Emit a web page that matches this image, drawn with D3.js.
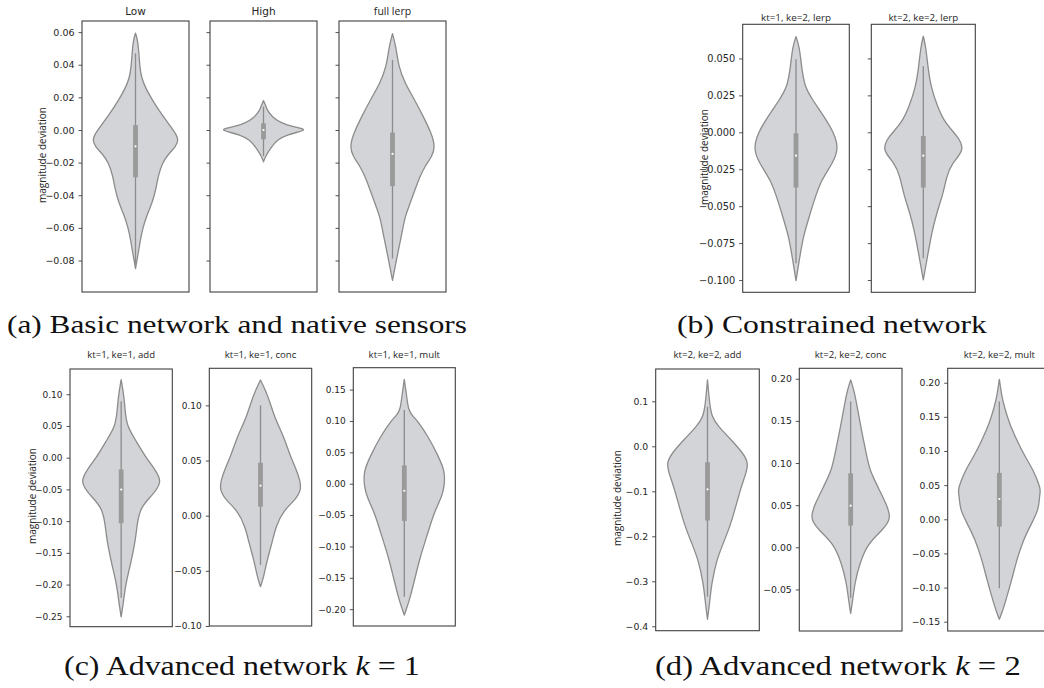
<!DOCTYPE html>
<html>
<head>
<meta charset="utf-8">
<script src="https://cdn.jsdelivr.net/npm/d3@7"></script>
<style>
  body { margin: 0; background: #fff; }
  svg { display: block; }
</style>
</head>
<body>
<svg id="fig" width="1044" height="688"></svg>
<script>
// ---- Violin profiles: sampled deviation levels and relative kernel density (0..1) ----
// Box stats are [lower whisker, q1, median, q3, upper whisker].

const lowLevels  = [0.0594, 0.055, 0.047, 0.039, 0.032, 0.026, 0.018, 0.010, 0.003, -0.003, -0.006, -0.010, -0.015, -0.020, -0.028, -0.036, -0.044, -0.052, -0.060, -0.068, -0.076, -0.085];
const lowDensity = [0, 0.05, 0.08, 0.10, 0.14, 0.23, 0.40, 0.60, 0.80, 0.96, 1, 0.95, 0.76, 0.63, 0.53, 0.48, 0.40, 0.27, 0.17, 0.11, 0.06, 0];
const lowBox     = [-0.082, -0.029, -0.010, 0.003, 0.047];

const highLevels  = [0.018, 0.015, 0.012, 0.008, 0.004, 0.002, 0.0004, -0.001, -0.003, -0.006, -0.011, -0.016, -0.0195];
const highDensity = [0, 0.05, 0.09, 0.20, 0.43, 0.70, 1, 0.85, 0.55, 0.32, 0.17, 0.05, 0];
const highBox     = [-0.016, -0.0057, 0.0, 0.0041, 0.0143];

const fullLerpLevels  = [0.059, 0.0512, 0.0389, 0.0287, 0.0184, 0.0082, -0.002, -0.0102, -0.0164, -0.0225, -0.0287, -0.0369, -0.0451, -0.0532, -0.0635, -0.0758, -0.084, -0.0922];
const fullLerpDensity = [0, 0.08, 0.14, 0.29, 0.52, 0.72, 0.91, 1, 0.92, 0.75, 0.64, 0.52, 0.41, 0.29, 0.22, 0.12, 0.06, 0];
const fullLerpBox     = [-0.0788, -0.0344, -0.0147, -0.0016, 0.043];

const k1e2LerpLevels  = [0.0647, 0.058, 0.0444, 0.0309, 0.0219, 0.0106, -0.0007, -0.0113, -0.021, -0.0323, -0.0458, -0.0571, -0.0706, -0.0841, -0.1004];
const k1e2LerpDensity = [0, 0.08, 0.13, 0.20, 0.39, 0.66, 0.90, 1, 0.86, 0.59, 0.43, 0.31, 0.17, 0.09, 0];
const k1e2LerpBox     = [-0.0886, -0.0374, -0.0158, -0.0007, 0.0494];

const k2e2LerpLevels  = [0.065, 0.058, 0.0444, 0.0309, 0.0174, 0.0061, -0.0029, -0.012, -0.021, -0.030, -0.0413, -0.0548, -0.0683, -0.0841, -0.0999];
const k2e2LerpDensity = [0, 0.06, 0.11, 0.18, 0.34, 0.52, 0.84, 1, 0.68, 0.56, 0.48, 0.32, 0.20, 0.10, 0];
const k2e2LerpBox     = [-0.0852, -0.0374, -0.0158, -0.0025, 0.0449];

const k1AddLevels  = [0.123, 0.0968, 0.0704, 0.0492, 0.028, 0.0016, -0.0196, -0.038, -0.0566, -0.0778, -0.1042, -0.1307, -0.1677, -0.1995, -0.226, -0.251];
const k1AddDensity = [0, 0.07, 0.10, 0.15, 0.35, 0.59, 0.84, 1, 0.80, 0.47, 0.39, 0.35, 0.23, 0.11, 0.06, 0];
const k1AddBox     = [-0.2206, -0.1032, -0.0503, -0.0185, 0.0889];

const k1ConcLevels  = [0.123, 0.1139, 0.1018, 0.0867, 0.0716, 0.0535, 0.0414, 0.0323, 0.0239, 0.0142, 0.0051, -0.010, -0.0251, -0.0402, -0.0553, -0.0643];
const k1ConcDensity = [0, 0.12, 0.24, 0.37, 0.57, 0.73, 0.88, 0.96, 1, 0.85, 0.57, 0.37, 0.28, 0.16, 0.08, 0];
const k1ConcBox     = [-0.0447, 0.0082, 0.0272, 0.048, 0.100];

const k1MultLevels  = [0.1663, 0.1387, 0.1174, 0.108, 0.1015, 0.0749, 0.043, 0.0191, -0.0048, -0.0207, -0.0473, -0.0845, -0.1164, -0.1483, -0.1801, -0.1961, -0.2094];
const k1MultDensity = [0, 0.06, 0.10, 0.20, 0.31, 0.59, 0.84, 1, 0.98, 0.92, 0.72, 0.55, 0.39, 0.27, 0.15, 0.07, 0];
const k1MultBox     = [-0.180, -0.0595, -0.0112, 0.0292, 0.1174];

const k2AddLevels  = [0.1474, 0.0956, 0.0659, 0.0437, 0.0141, -0.0156, -0.0378, -0.0674, -0.097, -0.1415, -0.1785, -0.2156, -0.2526, -0.3044, -0.3489, -0.3844];
const k2AddDensity = [0, 0.05, 0.10, 0.26, 0.58, 0.86, 1, 0.90, 0.79, 0.66, 0.54, 0.38, 0.22, 0.10, 0.05, 0];
const k2AddBox     = [-0.334, -0.165, -0.0957, -0.0354, 0.0881];

const k2ConcLevels  = [0.1986, 0.1867, 0.1669, 0.1392, 0.1116, 0.0918, 0.072, 0.0522, 0.0344, 0.0206, 0.0047, -0.019, -0.0427, -0.0625, -0.0783];
const k2ConcDensity = [0, 0.08, 0.16, 0.26, 0.38, 0.46, 0.66, 0.86, 1, 0.78, 0.42, 0.22, 0.10, 0.05, 0];
const k2ConcBox     = [-0.060, 0.0257, 0.0494, 0.0878, 0.1729];

const k2MultLevels  = [0.205, 0.1796, 0.165, 0.1406, 0.1162, 0.0918, 0.0722, 0.0527, 0.043, 0.0332, 0.0137, -0.0059, -0.0303, -0.0595, -0.0888, -0.1181, -0.1376, -0.1464];
const k2MultDensity = [0, 0.06, 0.12, 0.24, 0.42, 0.62, 0.82, 0.95, 1, 0.97, 0.95, 0.78, 0.58, 0.42, 0.30, 0.16, 0.06, 0];
const k2MultBox     = [-0.101, -0.0108, 0.0297, 0.068, 0.1723];

// ---- Axis limits and tick values ----
const basicLimits = [-0.0993, 0.0668];
const basicTicks  = [0.06, 0.04, 0.02, 0, -0.02, -0.04, -0.06, -0.08];
const constrLimits = [-0.1083, 0.0731];
const constrTicks  = [0.05, 0.025, 0, -0.025, -0.05, -0.075, -0.1];
const k1AddLimits  = [-0.2664, 0.1398];
const k1AddTicks   = [0.1, 0.05, 0, -0.05, -0.1, -0.15, -0.2, -0.25];
const k1ConcLimits = [-0.1, 0.1336];
const k1ConcTicks  = [0.1, 0.05, 0, -0.05, -0.1];
const k1MultLimits = [-0.2268, 0.1849];
const k1MultTicks  = [0.15, 0.1, 0.05, 0, -0.05, -0.1, -0.15, -0.2];
const k2AddLimits  = [-0.4098, 0.1718];
const k2AddTicks   = [0.1, 0, -0.1, -0.2, -0.3, -0.4];
const k2ConcLimits = [-0.0993, 0.2124];
const k2ConcTicks  = [0.2, 0.15, 0.1, 0.05, 0, -0.05];
const k2MultLimits = [-0.1636, 0.2211];
const k2MultTicks  = [0.2, 0.15, 0.1, 0.05, 0, -0.05, -0.1, -0.15];

const yLabel = "magnitude deviation";

// ---- Layout ----
const svg = d3.select("#fig");
const COL = { fill: "#d3d4d7", edge: "#8c8c8c", box: "#9a9a9a", frame: "#404040", text: "#262626" };
const TITLE_FONT = "'Open Sans', 'Noto Sans', sans-serif";
const TICK_FONT = "'DejaVu Sans', sans-serif";

const panels = [
  { title: "Low",       levels: lowLevels,      density: lowDensity,      box: lowBox,      limits: basicLimits,  ticks: basicTicks,  fmt: ".2f", labels: true,  frame: [82, 21, 189, 292],        tickSize: 9.5, titleY: 15,   titleFont: TICK_FONT, titleSize: 10.5 },
  { title: "High",      levels: highLevels,     density: highDensity,     box: highBox,     limits: basicLimits,  ticks: basicTicks,  fmt: ".2f", labels: false, frame: [210, 21, 317, 292],       tickSize: 9.5, titleY: 15,   titleFont: TICK_FONT, titleSize: 10.5 },
  { title: "full lerp", levels: fullLerpLevels, density: fullLerpDensity, box: fullLerpBox, limits: basicLimits,  ticks: basicTicks,  fmt: ".2f", labels: false, frame: [339, 21, 446, 292],       tickSize: 9.5, titleY: 15,   titleFont: TITLE_FONT, titleSize: 10.5 },
  { title: "kt=1, ke=2, lerp", levels: k1e2LerpLevels, density: k1e2LerpDensity, box: k1e2LerpBox, limits: constrLimits, ticks: constrTicks, fmt: ".3f", labels: true,  frame: [742.7, 24.3, 849.3, 292.3], tickSize: 9.8, titleY: 20.5, titleFont: TITLE_FONT, titleSize: 9.8 },
  { title: "kt=2, ke=2, lerp", levels: k2e2LerpLevels, density: k2e2LerpDensity, box: k2e2LerpBox, limits: constrLimits, ticks: constrTicks, fmt: ".3f", labels: false, frame: [871.3, 24.3, 975.3, 292.3], tickSize: 9.8, titleY: 20.5, titleFont: TITLE_FONT, titleSize: 9.8 },
  { title: "kt=1, ke=1, add",  levels: k1AddLevels,  density: k1AddDensity,  box: k1AddBox,  limits: k1AddLimits,  ticks: k1AddTicks,  fmt: ".2f", labels: true, frame: [70, 369, 172.3, 626.7],   tickSize: 9.0, titleY: 358, titleFont: TITLE_FONT, titleSize: 9.6 },
  { title: "kt=1, ke=1, conc", levels: k1ConcLevels, density: k1ConcDensity, box: k1ConcBox, limits: k1ConcLimits, ticks: k1ConcTicks, fmt: ".2f", labels: true, frame: [209.3, 368.3, 311.7, 626], tickSize: 9.0, titleY: 358, titleFont: TITLE_FONT, titleSize: 9.6 },
  { title: "kt=1, ke=1, mult", levels: k1MultLevels, density: k1MultDensity, box: k1MultBox, limits: k1MultLimits, ticks: k1MultTicks, fmt: ".2f", labels: true, frame: [353.3, 367.7, 455.3, 626], tickSize: 9.0, titleY: 358, titleFont: TITLE_FONT, titleSize: 9.6 },
  { title: "kt=2, ke=2, add",  levels: k2AddLevels,  density: k2AddDensity,  box: k2AddBox,  limits: k2AddLimits,  ticks: k2AddTicks,  fmt: ".1f", labels: true, frame: [655.7, 369, 759.3, 630.7], tickSize: 9.3, titleY: 358, titleFont: TITLE_FONT, titleSize: 9.6 },
  { title: "kt=2, ke=2, conc", levels: k2ConcLevels, density: k2ConcDensity, box: k2ConcBox, limits: k2ConcLimits, ticks: k2ConcTicks, fmt: ".2f", labels: true, frame: [799.3, 368.3, 902, 631],   tickSize: 9.3, titleY: 358, titleFont: TITLE_FONT, titleSize: 9.6 },
  { title: "kt=2, ke=2, mult", levels: k2MultLevels, density: k2MultDensity, box: k2MultBox, limits: k2MultLimits, ticks: k2MultTicks, fmt: ".2f", labels: true, frame: [947.7, 368.3, 1051, 631],  tickSize: 9.3, titleY: 358, titleFont: TITLE_FONT, titleSize: 9.6 }
];

function drawPanel(p) {
  const [x0, y0, x1, y1] = p.frame;
  const g = svg.append("g");

  const y = d3.scaleLinear().domain(p.limits).range([y1, y0]);
  const x = d3.scaleBand().domain([p.title]).range([x0, x1]).padding(0);
  const cx = x(p.title) + x.bandwidth() / 2;
  const half = d3.scaleLinear().domain([0, 1]).range([0, x.bandwidth() * 0.4]);

  const pts = p.levels.map((v, i) => ({ v, d: p.density[i] }));
  const area = d3.area()
    .curve(d3.curveBasis)
    .y(d => y(d.v))
    .x0(d => cx - half(d.d))
    .x1(d => cx + half(d.d));

  g.append("path")
    .attr("d", area(pts))
    .attr("fill", COL.fill)
    .attr("stroke", COL.edge)
    .attr("stroke-width", 1.3)
    .attr("stroke-linejoin", "round");

  // inner box: whiskers, interquartile bar, median dot
  const [lo, q1, med, q3, hi] = p.box;
  g.append("line")
    .attr("x1", cx).attr("x2", cx)
    .attr("y1", y(lo)).attr("y2", y(hi))
    .attr("stroke", COL.edge).attr("stroke-width", 1.3);
  g.append("rect")
    .attr("x", cx - 2.4).attr("width", 4.8)
    .attr("y", y(q3)).attr("height", y(q1) - y(q3))
    .attr("fill", COL.box);
  g.append("circle")
    .attr("cx", cx).attr("cy", y(med)).attr("r", 1.1)
    .attr("fill", "#fff");

  // axes frame
  g.append("rect")
    .attr("x", x0).attr("y", y0)
    .attr("width", x1 - x0).attr("height", y1 - y0)
    .attr("fill", "none")
    .attr("stroke", COL.frame).attr("stroke-width", 1.1);

  const axis = d3.axisLeft(y)
    .tickValues(p.ticks)
    .tickSize(3.5)
    .tickPadding(4)
    .tickFormat(p.labels ? d3.format(p.fmt) : () => "");
  const ag = g.append("g").attr("transform", `translate(${x0},0)`).call(axis);
  ag.select(".domain").remove();
  ag.selectAll(".tick line").attr("stroke", COL.frame).attr("stroke-width", 0.9);
  ag.selectAll(".tick text")
    .attr("font-family", TICK_FONT)
    .attr("font-size", p.tickSize)
    .attr("fill", COL.text);

  g.append("text")
    .attr("x", cx).attr("y", p.titleY)
    .attr("text-anchor", "middle")
    .attr("font-family", p.titleFont)
    .attr("font-size", p.titleSize)
    .attr("fill", COL.text)
    .text(p.title);
}

panels.forEach(drawPanel);

// y-axis titles, one per sub-figure
[[42.7, 155], [704, 157], [32.7, 496], [617.7, 498]].forEach(([lx, ly]) => {
  svg.append("text")
    .attr("transform", `translate(${lx},${ly}) rotate(-90)`)
    .attr("text-anchor", "middle")
    .attr("dy", "0.35em")
    .attr("font-family", TITLE_FONT)
    .attr("font-size", 10)
    .attr("fill", COL.text)
    .text(yLabel);
});

// sub-figure captions, stretched to their set widths
const captions = [
  { parts: [["(a) Basic network and native sensors", false]], x: 7, base: 333, width: 460, size: 25 },
  { parts: [["(b) Constrained network", false]], x: 677, base: 333, width: 310, size: 25 },
  { parts: [["(c) Advanced network ", false], ["k", true], [" = 1", false]], x: 64, base: 675, width: 356, size: 28 },
  { parts: [["(d) Advanced network ", false], ["k", true], [" = 2", false]], x: 655, base: 675, width: 366, size: 28 }
];
captions.forEach(c => {
  const t = svg.append("text")
    .attr("font-family", "'Liberation Serif', 'DejaVu Serif', serif")
    .attr("font-size", c.size)
    .attr("fill", "#111");
  c.parts.forEach(([s, it]) => {
    t.append("tspan").attr("font-style", it ? "italic" : "normal").text(s);
  });
  const w = t.node().getComputedTextLength();
  t.attr("transform", `translate(${c.x},${c.base}) scale(${c.width / w},1)`);
});
</script>
</body>
</html>
